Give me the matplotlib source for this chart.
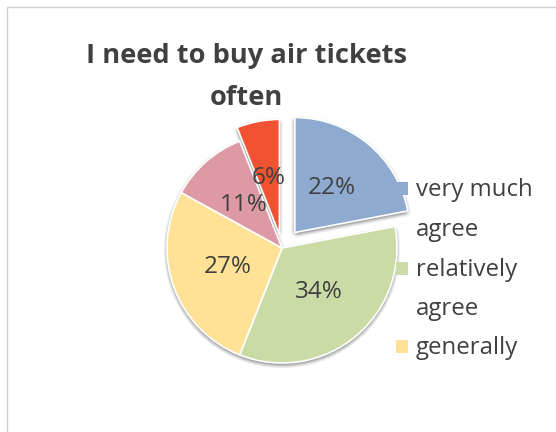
import matplotlib
matplotlib.use("Agg")
import matplotlib.pyplot as plt
from matplotlib.patches import Wedge, Rectangle
from matplotlib.transforms import ScaledTranslation

# Survey answers to "I need to buy air tickets often" (percent of respondents)
shares = [22, 34, 27, 11, 6]
colors = ["#8FAACF", "#CBDBA6", "#FFE296", "#DD9AA4", "#F05232"]
explode = [0.175, 0, 0, 0, 0.12]
legend_labels = [["very much", "agree"], ["relatively", "agree"], ["generally"]]
title_lines = ["I need to buy air tickets", "often"]

W, H, DPI = 556, 432, 100
TEXT = "#404040"
FONT = "Open Sans"

fig = plt.figure(figsize=(W / DPI, H / DPI), dpi=DPI)
fig.patch.set_facecolor("white")

# axes covering the whole canvas; one data unit = pie radius in pixels
R_PX = 115.0
CX, CY = 282.0, 248.0  # pie centre, pixels from top-left
ax = fig.add_axes([0, 0, 1, 1])

wedges, texts, autotexts = ax.pie(
    shares,
    colors=colors,
    explode=explode,
    startangle=90,
    counterclock=False,
    radius=1.0,
    autopct=lambda p: f"{p:.0f}%",
    pctdistance=0.5,
    wedgeprops=dict(edgecolor="white", linewidth=1.2),
    textprops=dict(color=TEXT, fontsize=17.5, family=FONT),
)
for w in wedges:
    w.set_zorder(3)
for t in autotexts:
    t.set_zorder(4)

# soft drop shadow under every slice
offsets = []
for dx in range(-4, 5):
    for dy in range(-4, 5):
        if dx * dx + dy * dy <= 16:
            offsets.append((dx, dy))
for w in wedges:
    for dx, dy in offsets:
        sh = Wedge(w.center, w.r, w.theta1, w.theta2,
                   facecolor="black", edgecolor="none", alpha=0.011,
                   transform=ax.transData + ScaledTranslation(
                       dx / DPI, (dy - 2) / DPI, fig.dpi_scale_trans),
                   zorder=1)
        ax.add_patch(sh)

ax.set_xlim(-CX / R_PX, (W - CX) / R_PX)
ax.set_ylim(-(H - CY) / R_PX, CY / R_PX)
ax.set_aspect("equal", adjustable="box")
ax.axis("off")

def fx(px):
    return px / W

def fy(py):
    return 1 - py / H

# chart frame (left and top edges fall inside the canvas)
fig.add_artist(Rectangle((fx(6.5), fy(440)), fx(600), fy(6.5) - fy(440),
                         transform=fig.transFigure, facecolor="none",
                         edgecolor="#D0D0D0", linewidth=1.0, zorder=0))

# title
for line, base in zip(title_lines, [63, 105]):
    fig.text(fx(246), fy(base), line, ha="center", va="baseline",
             fontsize=19.6, fontweight="bold", family=FONT, color=TEXT)

# legend (entries wrap onto two lines)
baselines = [[196, 236], [276, 315], [354]]
for i, (lines, bases) in enumerate(zip(legend_labels, baselines)):
    sq = 12.5
    yc = bases[0] - 7.5
    fig.add_artist(Rectangle((fx(395.5), fy(yc + sq / 2)), sq / W, sq / H,
                             transform=fig.transFigure, facecolor=colors[i],
                             edgecolor="none", zorder=5))
    for line, b in zip(lines, bases):
        fig.text(fx(416), fy(b), line, ha="left", va="baseline",
                 fontsize=17.3, family=FONT, color=TEXT, zorder=5)

fig.savefig("out.png", dpi=DPI)
